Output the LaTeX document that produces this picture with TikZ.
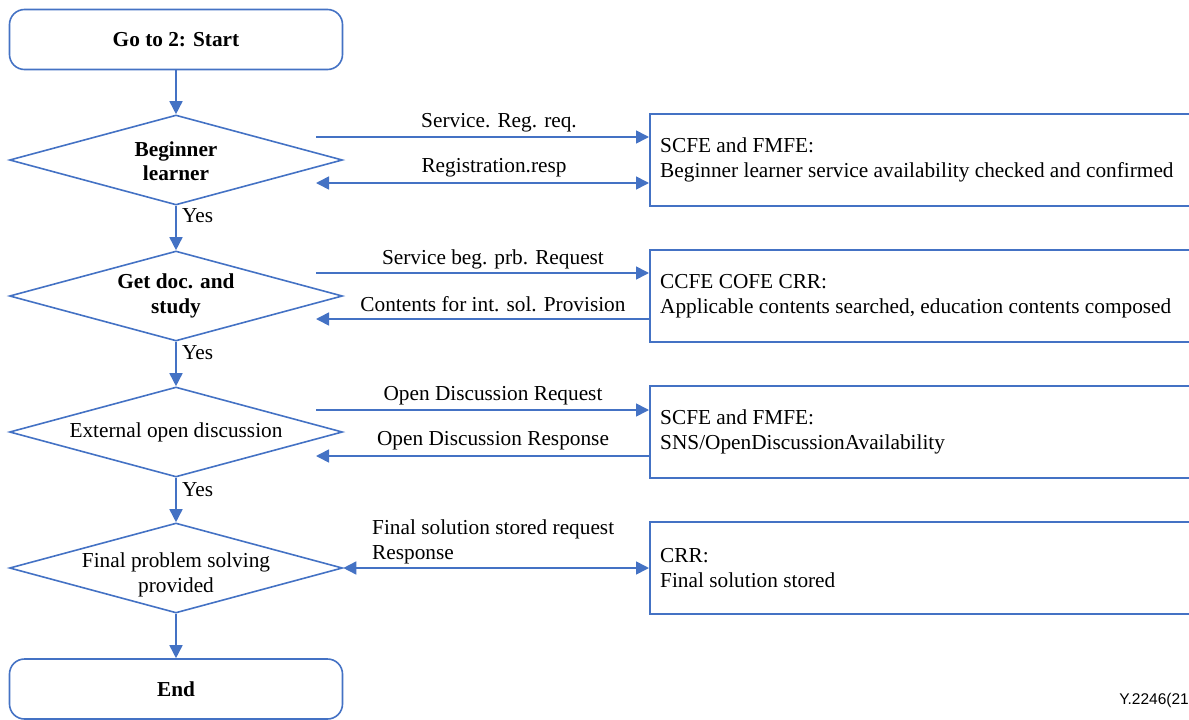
\documentclass[tikz,border=0pt]{standalone}
\usepackage{fontspec}
\newfontfamily\flowserif{Liberation Serif}
\newfontfamily\tagsans{Liberation Sans}
\usetikzlibrary{shapes.geometric,arrows.meta}
\definecolor{flowblue}{HTML}{4472C4}
\begin{document}
\begin{tikzpicture}[x=1pt,y=-1pt,
  every node/.style={font=\flowserif\fontsize{21.3}{24.5}\selectfont, inner sep=0pt},
  terminal/.style={draw=flowblue, line width=1.6pt, rounded corners=15pt,
    minimum width=333pt, minimum height=60pt, font=\flowserif\fontsize{21.3}{24.5}\selectfont\bfseries},
  decision/.style={draw=flowblue, line width=1.6pt, diamond,
    minimum width=333pt, minimum height=90pt},
  dtext/.style={align=center},
  boldtext/.style={font=\flowserif\fontsize{21.3}{24.5}\selectfont\bfseries},
  fbox/.style={draw=flowblue, line width=1.6pt, minimum width=560pt,
    minimum height=92pt, anchor=west},
  btext/.style={align=left, anchor=west},
  msg/.style={anchor=center},
  tip/.tip={Triangle[length=13pt,width=13pt]},
  flow/.style={draw=flowblue, line width=1.6pt, -tip},
  both/.style={draw=flowblue, line width=1.6pt, tip-tip},
  yes/.style={anchor=west}
]
\useasboundingbox (0,0) rectangle (1189,720);

% main flow
\node[terminal] (start) at (176,39.5) {Go to 2: Start};
\node[decision] (d1) at (176,160) {};
\node[dtext, boldtext] (t1) at (176,161) {Beginner\\learner};
\node[decision] (d2) at (176,296) {};
\node[dtext, boldtext] (t2) at (d2) {Get doc. and\\study};
\node[decision] (d3) at (176,432) {};
\node[dtext] (t3) at (d3) {External open discussion};
\node[decision] (d4) at (176,568) {};
\node[dtext] (t4) at (176,575) {Final problem solving\\provided};
\node[terminal] (end) at (176,689) {End};

\draw[flow] (start) -- (d1);
\draw[flow] (d1) -- (d2);
\draw[flow] (d2) -- (d3);
\draw[flow] (d3) -- (d4);
\draw[flow] (d4) -- (end);

\node[yes] (y1) at (182,216) {Yes};
\node[yes] (y2) at (182,353) {Yes};
\node[yes] (y3) at (182,490) {Yes};

% functional entity boxes
\node[fbox] (b1) at (649,160) {};
\node[btext] (bt1) at (660,160) {SCFE and FMFE:\\Beginner learner service availability checked and confirmed};
\node[fbox] (b2) at (649,296) {};
\node[btext] (bt2) at (660,296) {CCFE COFE CRR:\\Applicable contents searched, education contents composed};
\node[fbox] (b3) at (649,432) {};
\node[btext] (bt3) at (660,432) {SCFE and FMFE:\\SNS/OpenDiscussionAvailability};
\node[fbox] (b4) at (649,568) {};
\node[btext] (bt4) at (660,568) {CRR:\\Final solution stored};

% messages
\coordinate (r1a) at (316,137);
\coordinate (r1b) at (316,183);
\draw[flow] (r1a) -- (r1a -| b1.west);
\draw[both] (r1b) -- (r1b -| b1.west);
\node[msg] (m1a) at (499,123) {Service. Reg. req.};
\node[msg] (m1b) at (494,168) {Registration.resp};

\coordinate (r2a) at (316,273);
\coordinate (r2b) at (316,319);
\draw[flow] (r2a) -- (r2a -| b2.west);
\draw[flow] (r2b -| b2.west) -- (r2b);
\node[msg] (m2a) at (493,259) {Service beg. prb. Request};
\node[msg] (m2b) at (493,304) {Contents for int. sol. Provision};

\coordinate (r3a) at (316,410);
\coordinate (r3b) at (316,456);
\draw[flow] (r3a) -- (r3a -| b3.west);
\draw[flow] (r3b -| b3.west) -- (r3b);
\node[msg] (m3a) at (493,396) {Open Discussion Request};
\node[msg] (m3b) at (493,441) {Open Discussion Response};

\draw[both] (d4.east) -- (b4.west);
\node[btext] (m4) at (372,542) {Final solution stored request\\Response};

\node[anchor=east, font=\tagsans\fontsize{15.5}{18}\selectfont] (tag) at (1189,700) {Y.2246(21};
\end{tikzpicture}
\end{document}
